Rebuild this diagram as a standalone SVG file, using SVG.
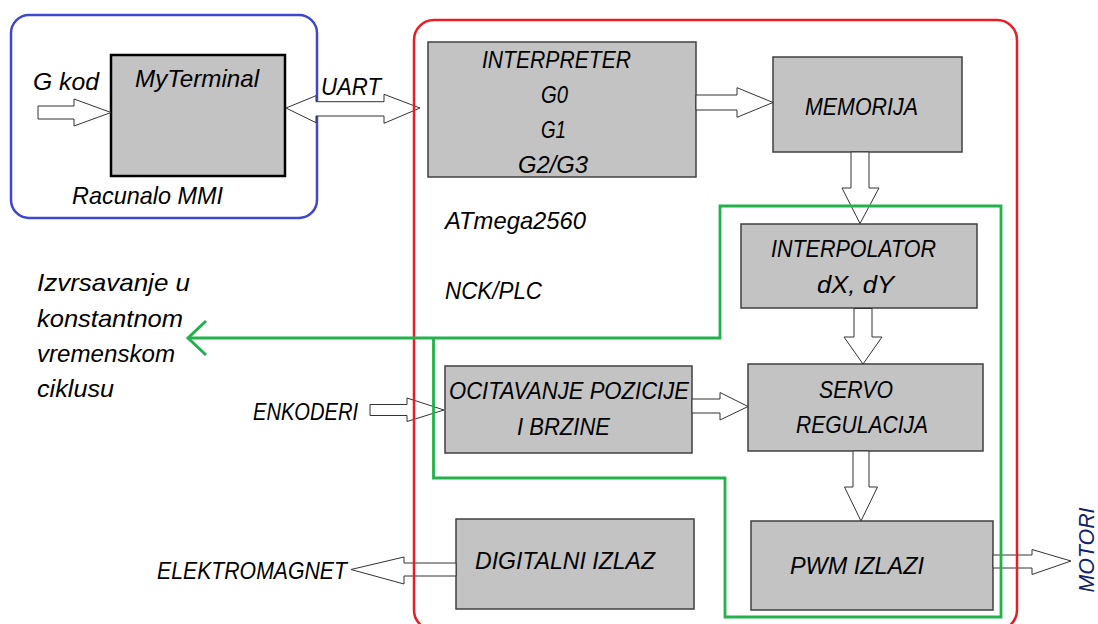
<svg xmlns="http://www.w3.org/2000/svg" width="1098" height="624" viewBox="0 0 1098 624">
<style>
text{font-family:"Liberation Sans",Arial,sans-serif;font-style:italic;font-size:24px;fill:#000}
.box{fill:#c3c3c3;stroke:#404040;stroke-width:1.5}
.arr{fill:#fff;stroke:#333;stroke-width:1}
</style>
<rect width="1098" height="624" fill="#fff"/>
<g id="racunalo-mmi">
<rect x="11" y="15" width="306" height="203" rx="18" fill="none" stroke="#3f48cc" stroke-width="2.5"/>
<text x="72" y="204" textLength="151" lengthAdjust="spacingAndGlyphs">Racunalo MMI</text>
</g>
<g id="myterminal">
<rect x="111" y="55" width="174" height="121" fill="#c3c3c3" stroke="#000" stroke-width="2.5"/>
<text x="135" y="87" textLength="124" lengthAdjust="spacingAndGlyphs">MyTerminal</text>
</g>
<g id="interpreter">
<rect class="box" x="428" y="42" width="268" height="135"/>
<text x="482" y="68" textLength="149" lengthAdjust="spacingAndGlyphs">INTERPRETER</text>
<text x="541" y="103" textLength="27" lengthAdjust="spacingAndGlyphs">G0</text>
<text x="541" y="138" textLength="25" lengthAdjust="spacingAndGlyphs">G1</text>
<text x="518" y="173" textLength="70" lengthAdjust="spacingAndGlyphs">G2/G3</text>
</g>
<g id="memorija">
<rect class="box" x="773" y="57" width="189" height="95"/>
<text x="805" y="115" textLength="113" lengthAdjust="spacingAndGlyphs">MEMORIJA</text>
</g>
<g id="atmega-label">
<text x="445" y="229" textLength="141" lengthAdjust="spacingAndGlyphs">ATmega2560</text>
<text x="445" y="299" textLength="97" lengthAdjust="spacingAndGlyphs">NCK/PLC</text>
</g>
<g id="interpolator">
<rect class="box" x="741" y="224" width="236" height="84"/>
<text x="771" y="257" textLength="165" lengthAdjust="spacingAndGlyphs">INTERPOLATOR</text>
<text x="817" y="293" textLength="77" lengthAdjust="spacingAndGlyphs">dX, dY</text>
</g>
<g id="ocitavanje">
<rect class="box" x="445" y="366" width="247" height="87"/>
<text x="449" y="399" textLength="240" lengthAdjust="spacingAndGlyphs">OCITAVANJE POZICIJE</text>
<text x="517" y="435" textLength="93" lengthAdjust="spacingAndGlyphs">I BRZINE</text>
</g>
<g id="servo">
<rect class="box" x="748" y="364" width="235" height="87"/>
<text x="819" y="398" textLength="74" lengthAdjust="spacingAndGlyphs">SERVO</text>
<text x="796" y="433" textLength="132" lengthAdjust="spacingAndGlyphs">REGULACIJA</text>
</g>
<g id="digitalni-izlaz">
<rect class="box" x="456" y="519" width="238" height="90"/>
<text x="475" y="569" textLength="180" lengthAdjust="spacingAndGlyphs">DIGITALNI IZLAZ</text>
</g>
<g id="pwm-izlazi">
<rect class="box" x="751" y="521" width="242" height="89"/>
<text x="790" y="574" textLength="134" lengthAdjust="spacingAndGlyphs">PWM IZLAZI</text>
</g>
<g id="external-labels">
<text x="33" y="90" textLength="66" lengthAdjust="spacingAndGlyphs">G kod</text>
<text x="321" y="95" textLength="60" lengthAdjust="spacingAndGlyphs">UART</text>
<text x="37" y="291" textLength="153" lengthAdjust="spacingAndGlyphs">Izvrsavanje u</text>
<text x="37" y="327" textLength="146" lengthAdjust="spacingAndGlyphs">konstantnom</text>
<text x="37" y="362" textLength="138" lengthAdjust="spacingAndGlyphs">vremenskom</text>
<text x="37" y="397" textLength="77" lengthAdjust="spacingAndGlyphs">ciklusu</text>
<text x="253" y="420" textLength="105" lengthAdjust="spacingAndGlyphs">ENKODERI</text>
<text x="157" y="579" textLength="190" lengthAdjust="spacingAndGlyphs">ELEKTROMAGNET</text>
<text transform="translate(1094,550) rotate(-90)" x="0" y="0" text-anchor="middle" textLength="85" lengthAdjust="spacingAndGlyphs" style="fill:#10206a;font-size:22px">MOTORI</text>
</g>
<g id="connectors">
<polygon class="arr" points="38,106 74,106 74,99 111,112.5 74,126 74,119 38,119"/>
<polygon class="arr" points="286,108 316,95.7 316,101.7 384,101.7 384,94.3 420,108 384,123.3 384,116 316,116 316,122.7"/>
<polygon class="arr" points="696,95 737,95 737,87.7 773,102.5 737,117.3 737,110 696,110"/>
<polygon class="arr" points="851,152 851,188 842,188 860,223.5 879,188 869,188 869,152"/>
<polygon class="arr" points="854,308.5 854,337 844,337 863,364 882,337 872,337 872,308.5"/>
<polygon class="arr" points="370,404.5 407,404.5 407,398 444,410 407,421.5 407,415.5 370,415.5"/>
<polygon class="arr" points="692,399 720,399 720,392.5 748,406.5 720,420 720,413 692,413"/>
<polygon class="arr" points="853,451 853,487 844.5,487 861,521 877.5,487 869,487 869,451"/>
<polygon class="arr" points="351,569.5 404,557 404,563 456,563 456,576 404,576 404,584"/>
<polygon class="arr" points="993,555 1032,555 1032,549.5 1071,561 1032,574.5 1032,568 993,568"/>
</g>
<g id="atmega2560">
<rect x="414" y="20" width="603" height="610" rx="20" fill="none" stroke="#ed1c24" stroke-width="2.5"/>
</g>
<g id="ciklus-petlja">
<path d="M188,338 H720 V206 H1001 V617 H725 V478 H433.5 V338" fill="none" stroke="#22b14c" stroke-width="2.8"/>
<path d="M206,321 L188,338 L206,355" fill="none" stroke="#22b14c" stroke-width="3"/>
</g>
</svg>
